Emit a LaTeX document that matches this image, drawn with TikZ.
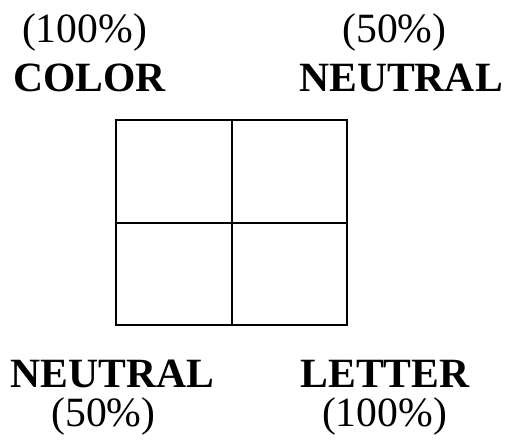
\documentclass[tikz,border=0pt]{standalone}
\usepackage{fontspec}
\setmainfont{Liberation Serif}
\usetikzlibrary{positioning}

\begin{document}
\begin{tikzpicture}[x=1bp,y=-1bp,line width=1.2bp,
  pct/.style={anchor=base,inner sep=0pt,font=\fontsize{41.8}{48}\selectfont},
  lbl/.style={anchor=base,inner sep=0pt,font=\fontsize{41.8}{48}\selectfont\bfseries}]
\useasboundingbox (0,0) rectangle (511,442);
% top labels
\node[pct] (pcttl) at (84.5,43){(100\%)};
\node[lbl] (color) at (89.5,92){COLOR};
\node[pct] (pcttr) at (394.5,43){(50\%)};
\node[lbl] (neutraltr) at (401,92){NEUTRAL};
% grid
\coordinate (nw) at (116,120);
\coordinate (se) at (347,325);
\coordinate (mid) at (232,223);
\draw (nw) rectangle (se);
\draw (nw -| mid) -- (se -| mid);
\draw (nw |- mid) -- (se |- mid);
% bottom labels
\node[lbl] (neutralbl) at (112.5,387){NEUTRAL};
\node[pct] (pctbl) at (103.5,426){(50\%)};
\node[lbl] (letter) at (385,387){LETTER};
\node[pct] (pctbr) at (384.5,426){(100\%)};
\end{tikzpicture}
\end{document}
